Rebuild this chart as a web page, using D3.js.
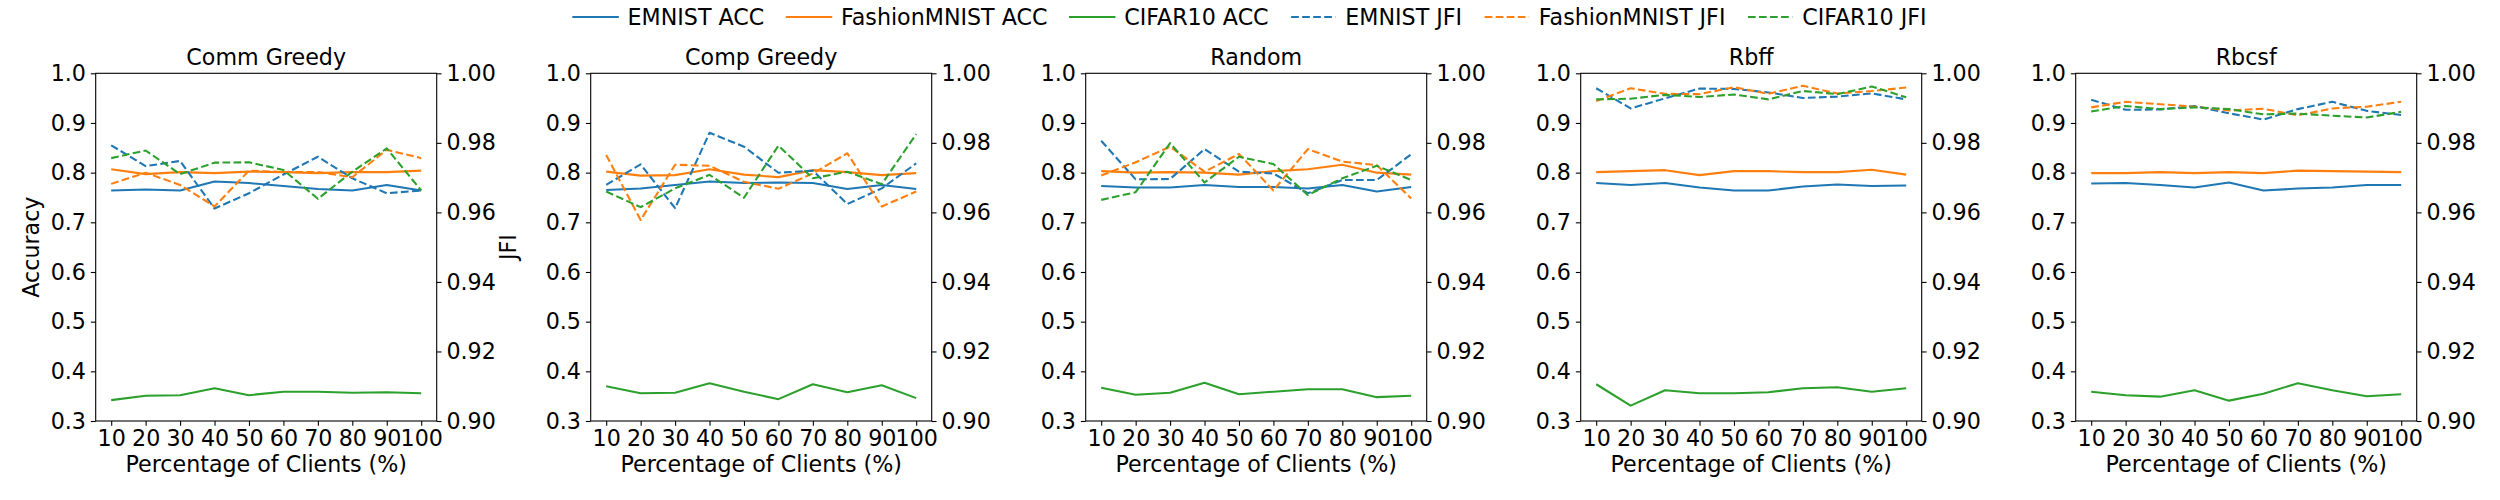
<!DOCTYPE html>
<html>
<head>
<meta charset="utf-8">
<script src="https://cdn.jsdelivr.net/npm/d3@7"></script>
<style>
  body { margin: 0; background: #fff; }
  text { font-family: "DejaVu Sans", sans-serif; fill: #000; }
</style>
</head>
<body>
<div class="chart"></div>
<script>
// Data
const clientPcts = [10, 20, 30, 40, 50, 60, 70, 80, 90, 100];
const methods = ["Comm Greedy", "Comp Greedy", "Random", "Rbff", "Rbcsf"];
const accTicks = [0.3, 0.4, 0.5, 0.6, 0.7, 0.8, 0.9, 1.0];
const jfiTicks = [0.90, 0.92, 0.94, 0.96, 0.98, 1.00];

// one row per method
const emnistAcc = [
  [0.764, 0.766, 0.764, 0.782, 0.779, 0.773, 0.767, 0.764, 0.775, 0.764],
  [0.765, 0.768, 0.775, 0.782, 0.779, 0.780, 0.779, 0.767, 0.775, 0.767],
  [0.773, 0.770, 0.770, 0.775, 0.771, 0.771, 0.768, 0.775, 0.762, 0.771],
  [0.779, 0.775, 0.779, 0.770, 0.764, 0.764, 0.772, 0.776, 0.773, 0.774],
  [0.778, 0.779, 0.775, 0.770, 0.780, 0.764, 0.768, 0.770, 0.775, 0.775]
];
const fashionAcc = [
  [0.807, 0.797, 0.801, 0.799, 0.802, 0.801, 0.799, 0.801, 0.801, 0.804],
  [0.802, 0.794, 0.795, 0.807, 0.796, 0.791, 0.805, 0.801, 0.795, 0.799],
  [0.803, 0.800, 0.801, 0.800, 0.796, 0.803, 0.807, 0.816, 0.800, 0.796],
  [0.801, 0.803, 0.805, 0.795, 0.803, 0.803, 0.801, 0.801, 0.806, 0.796],
  [0.799, 0.799, 0.801, 0.799, 0.801, 0.799, 0.804, 0.803, 0.802, 0.801]
];
const cifarAcc = [
  [0.342, 0.351, 0.352, 0.366, 0.352, 0.359, 0.359, 0.357, 0.358, 0.356],
  [0.370, 0.356, 0.357, 0.376, 0.359, 0.344, 0.374, 0.358, 0.372, 0.346],
  [0.367, 0.353, 0.357, 0.377, 0.354, 0.359, 0.364, 0.364, 0.348, 0.351],
  [0.374, 0.331, 0.362, 0.356, 0.356, 0.358, 0.366, 0.368, 0.359, 0.366],
  [0.359, 0.352, 0.349, 0.362, 0.341, 0.355, 0.376, 0.362, 0.350, 0.354]
];
const emnistJfi = [
  [0.9793, 0.9733, 0.9748, 0.9611, 0.9655, 0.9709, 0.9760, 0.9698, 0.9655, 0.9663],
  [0.9679, 0.9738, 0.9612, 0.9829, 0.9789, 0.9714, 0.9720, 0.9624, 0.9669, 0.9741],
  [0.9806, 0.9695, 0.9696, 0.9782, 0.9717, 0.9712, 0.9655, 0.9693, 0.9693, 0.9767],
  [0.9957, 0.9899, 0.9928, 0.9956, 0.9955, 0.9945, 0.9929, 0.9933, 0.9942, 0.9925],
  [0.9924, 0.9895, 0.9896, 0.9906, 0.9885, 0.9867, 0.9897, 0.9918, 0.9892, 0.9880]
];
const fashionJfi = [
  [0.9682, 0.9714, 0.9679, 0.9617, 0.9720, 0.9716, 0.9716, 0.9701, 0.9780, 0.9756],
  [0.9765, 0.9578, 0.9737, 0.9734, 0.9688, 0.9668, 0.9712, 0.9770, 0.9617, 0.9660],
  [0.9706, 0.9744, 0.9789, 0.9717, 0.9768, 0.9663, 0.9782, 0.9746, 0.9736, 0.9640],
  [0.9920, 0.9957, 0.9941, 0.9940, 0.9960, 0.9941, 0.9964, 0.9942, 0.9949, 0.9959],
  [0.9902, 0.9918, 0.9911, 0.9904, 0.9893, 0.9898, 0.9879, 0.9899, 0.9904, 0.9918]
];
const cifarJfi = [
  [0.9756, 0.9778, 0.9710, 0.9743, 0.9744, 0.9722, 0.9639, 0.9717, 0.9784, 0.9663],
  [0.9660, 0.9615, 0.9669, 0.9708, 0.9642, 0.9792, 0.9698, 0.9717, 0.9681, 0.9825],
  [0.9636, 0.9658, 0.9799, 0.9686, 0.9760, 0.9739, 0.9650, 0.9698, 0.9734, 0.9693],
  [0.9925, 0.9927, 0.9938, 0.9932, 0.9939, 0.9925, 0.9949, 0.9940, 0.9962, 0.9931],
  [0.9890, 0.9906, 0.9897, 0.9902, 0.9897, 0.9882, 0.9884, 0.9878, 0.9873, 0.9889]
];

const series = [
  { label: "EMNIST ACC", data: emnistAcc, color: "#1f77b4", dashed: false, axis: "acc" },
  { label: "FashionMNIST ACC", data: fashionAcc, color: "#ff7f0e", dashed: false, axis: "acc" },
  { label: "CIFAR10 ACC", data: cifarAcc, color: "#2ca02c", dashed: false, axis: "acc" },
  { label: "EMNIST JFI", data: emnistJfi, color: "#1f77b4", dashed: true, axis: "jfi" },
  { label: "FashionMNIST JFI", data: fashionJfi, color: "#ff7f0e", dashed: true, axis: "jfi" },
  { label: "CIFAR10 JFI", data: cifarJfi, color: "#2ca02c", dashed: true, axis: "jfi" }
];

// Layout
const W = 2500, H = 500;
const panelLeft = 95.7, panelStep = 495, panelTop = 73.3;
const width = 341, height = 347.7;
const fontSize = 22.2;
const tick = 4.86;
const lw = 2.08;
const dash = "7.7,3.33";

const svg = d3.select(".chart")
  .append("svg")
  .attr("width", W)
  .attr("height", H)
  .style("font-size", fontSize + "px");

const xScale = d3.scaleLinear().domain([5.5, 104.5]).range([0, width]);
const yAcc = d3.scaleLinear().domain([0.3, 1.0]).range([height, 0]);
const yJfi = d3.scaleLinear().domain([0.9, 1.0]).range([height, 0]);

methods.forEach((m, p) => {
  const g = svg.append("g")
    .attr("transform", `translate(${panelLeft + p * panelStep},${panelTop})`);

  // lines: accuracy first, JFI (twin axis) on top
  series.forEach((s) => {
    const y = s.axis === "acc" ? yAcc : yJfi;
    const line = d3.line()
      .x((d, i) => xScale(clientPcts[i]))
      .y((d) => y(d));
    g.append("path")
      .datum(s.data[p])
      .attr("d", line)
      .attr("fill", "none")
      .attr("stroke", s.color)
      .attr("stroke-width", lw)
      .attr("stroke-linejoin", "round")
      .attr("stroke-dasharray", s.dashed ? dash : null);
  });

  // frame
  g.append("rect")
    .attr("width", width)
    .attr("height", height)
    .attr("fill", "none")
    .attr("stroke", "#000")
    .attr("stroke-width", 1.1);

  const axes = [
    g.append("g").call(d3.axisLeft(yAcc).tickValues(accTicks).tickFormat(d3.format(".1f"))
      .tickSize(tick).tickPadding(tick)),
    g.append("g").attr("transform", `translate(${width},0)`)
      .call(d3.axisRight(yJfi).tickValues(jfiTicks).tickFormat(d3.format(".2f"))
      .tickSize(tick).tickPadding(tick)),
    g.append("g").attr("transform", `translate(0,${height})`)
      .call(d3.axisBottom(xScale).tickValues(clientPcts).tickFormat(d3.format("d"))
      .tickSize(tick).tickPadding(tick))
  ];
  axes.forEach((a) => {
    a.select(".domain").remove();
    a.selectAll("line").attr("stroke-width", 1.1);
    a.selectAll("text").attr("font-size", fontSize).attr("font-family", "DejaVu Sans");
  });

  g.append("text")
    .attr("x", width / 2)
    .attr("y", 65 - panelTop)
    .attr("text-anchor", "middle")
    .text(m);

  g.append("text")
    .attr("x", width / 2)
    .attr("y", 472 - panelTop)
    .attr("text-anchor", "middle")
    .text("Percentage of Clients (%)");

  if (p === 0) {
    g.append("text")
      .attr("transform", `translate(${39.5 - panelLeft},${height / 2}) rotate(-90)`)
      .attr("text-anchor", "middle")
      .text("Accuracy");
    g.append("text")
      .attr("transform", `translate(${516 - panelLeft},${height / 2}) rotate(-90)`)
      .attr("text-anchor", "middle")
      .text("JFI");
  }
});

// Legend across the top, centred
const handleLen = 44.4, textPad = 9.8, colGap = 22.5;
const legend = svg.append("g");
const items = legend.selectAll("g")
  .data(series)
  .enter()
  .append("g");
items.append("text")
  .attr("y", 25)
  .text((d) => d.label);
const widths = [];
items.select("text").each(function () { widths.push(this.getComputedTextLength()); });
const total = d3.sum(widths) + series.length * (handleLen + textPad) + (series.length - 1) * colGap;
let xPos = W / 2 - total / 2;
items.each(function (d, i) {
  const item = d3.select(this).attr("transform", `translate(${xPos},0)`);
  item.append("line")
    .attr("x1", 0)
    .attr("x2", handleLen)
    .attr("y1", 17)
    .attr("y2", 17)
    .attr("stroke", d.color)
    .attr("stroke-width", lw)
    .attr("stroke-linecap", d.dashed ? "butt" : "square")
    .attr("stroke-dasharray", d.dashed ? dash : null);
  item.select("text").attr("x", handleLen + textPad);
  xPos += handleLen + textPad + widths[i] + colGap;
});
</script>
</body>
</html>
